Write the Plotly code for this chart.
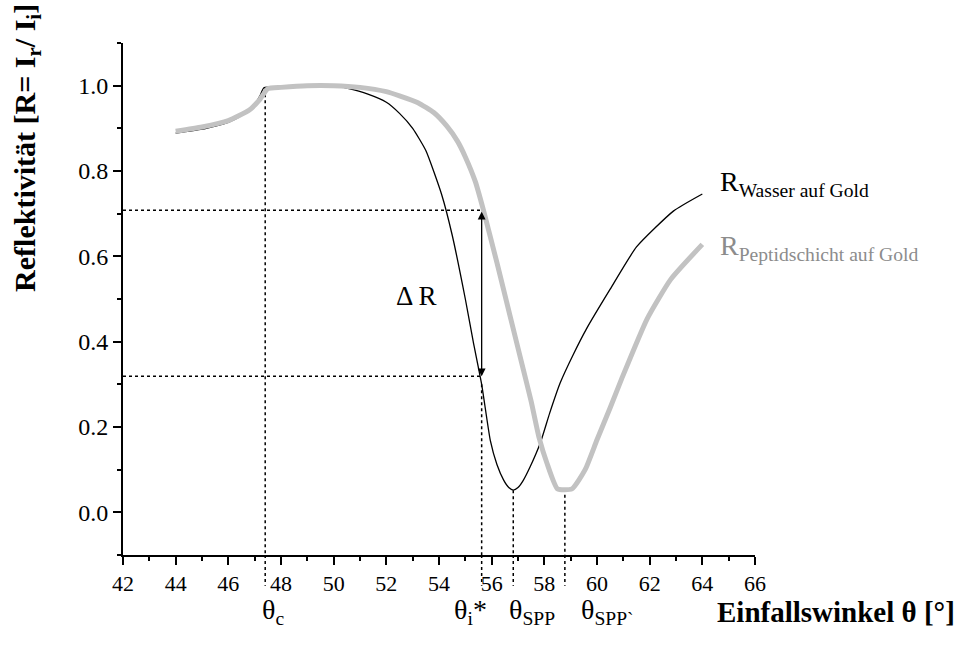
import plotly.graph_objects as go

# ---- data ----
theta_water = [44.0, 45.0, 46.0, 46.7, 47.0, 47.2, 47.35, 48.0, 49.0, 50.0, 50.5, 51.3, 52.0, 52.5,
               53.0, 53.5, 54.1, 54.5, 55.0, 55.3, 55.62, 55.95, 56.2, 56.45, 56.65, 56.82, 57.0,
               57.2, 57.47, 57.86, 58.2, 58.6, 59.1, 59.6, 60.5, 61.5, 62.9, 64.0]
R_water = [0.889, 0.898, 0.914, 0.937, 0.955, 0.976, 0.995, 0.997, 1.0, 1.0, 0.994, 0.98, 0.961, 0.935,
           0.900, 0.848, 0.745, 0.650, 0.50, 0.40, 0.30, 0.168, 0.112, 0.076, 0.058, 0.052, 0.058,
           0.075, 0.108, 0.165, 0.232, 0.303, 0.37, 0.43, 0.523, 0.622, 0.706, 0.746]

theta_peptide = [44.0, 45.0, 46.0, 46.8, 47.2, 47.5, 48.0, 49.0, 50.0, 51.0, 52.0, 52.5, 53.2, 53.8,
                 54.3, 54.7, 55.0, 55.38, 55.68, 56.2, 56.7, 57.2, 57.5, 57.8, 58.1, 58.5, 59.05,
                 59.55, 60.0, 60.5, 60.95, 61.9, 62.8, 64.0]
R_peptide = [0.893, 0.903, 0.918, 0.943, 0.968, 0.993, 0.996, 1.0, 1.0, 0.996, 0.986, 0.976, 0.96, 0.937,
             0.905, 0.87, 0.833, 0.775, 0.71, 0.585, 0.46, 0.335, 0.26, 0.175, 0.115, 0.055, 0.055,
             0.10, 0.17, 0.245, 0.315, 0.453, 0.546, 0.628]

theta_c = 47.4
theta_i = 55.62
theta_spp = 56.82
theta_spp2 = 58.78
R_at_c = 0.994
R_at_i = 0.30
R_min_water = 0.052
R_min_peptide = 0.055
R_high = 0.708
R_low = 0.319

x_ticks = list(range(42, 67, 2))
y_ticks = [0.0, 0.2, 0.4, 0.6, 0.8, 1.0]

FONT = "Liberation Serif, Times New Roman, serif"

fig = go.Figure()
fig.add_trace(go.Scatter(x=theta_water, y=R_water, mode="lines",
                         line=dict(color="black", width=1.3, shape="spline", smoothing=0.5),
                         showlegend=False))
fig.add_trace(go.Scatter(x=theta_peptide, y=R_peptide, mode="lines",
                         line=dict(color="#c2c2c2", width=5, shape="spline", smoothing=0.5),
                         showlegend=False))

dot = dict(color="black", width=1.5, dash="dot")
# vertical dotted lines (inside plot) + small extension below axis
for xv, yv in [(theta_c, R_at_c), (theta_i, R_at_i), (theta_spp, R_min_water), (theta_spp2, R_min_peptide)]:
    fig.add_shape(type="line", xref="x", yref="y", x0=xv, x1=xv, y0=yv, y1=-0.1, line=dot, layer="below")
    fig.add_shape(type="line", xref="x", yref="paper", x0=xv, x1=xv, y0=0, y1=-0.06, line=dot)
# horizontal dotted lines
for yv in [R_high, R_low]:
    fig.add_shape(type="line", xref="x", yref="y", x0=42, x1=theta_i, y0=yv, y1=yv, line=dot, layer="below")

# delta R arrow
fig.add_annotation(x=theta_i, y=R_low, ax=theta_i, ay=R_high, axref="x", ayref="y", xref="x", yref="y",
                   text="", showarrow=True, arrowside="end+start", arrowhead=2, startarrowhead=2,
                   arrowsize=1.2, startarrowsize=1.2, arrowwidth=1.3, arrowcolor="black", standoff=0, startstandoff=0)
fig.add_annotation(x=53.14, y=0.508, xref="x", yref="y", text="Δ R", showarrow=False,
                   font=dict(family=FONT, size=27, color="black"))

# curve labels
fig.add_annotation(x=64.59, y=0.77, xref="x", yref="y", xanchor="left", yanchor="middle",
                   text="R<sub>Wasser auf Gold</sub>", showarrow=False,
                   font=dict(family=FONT, size=28, color="black"))
fig.add_annotation(x=64.59, y=0.62, xref="x", yref="y", xanchor="left", yanchor="middle",
                   text="R<sub>Peptidschicht auf Gold</sub>", showarrow=False,
                   font=dict(family=FONT, size=28, color="#8c8c8c"))

# angle labels below axis
for xv, txt in [(47.7, "θ<sub>c</sub>"), (55.19, "θ<sub>i</sub>*"), (57.55, "θ<sub>SPP</sub>"),
                (60.4, "θ<sub>SPP`</sub>")]:
    fig.add_annotation(x=xv, y=-0.111, xref="x", yref="paper", text=txt, showarrow=False,
                       xanchor="center", yanchor="middle",
                       font=dict(family=FONT, size=28, color="black"))

fig.add_annotation(x=1.3196, y=-0.111, xref="paper", yref="paper", text="<b>Einfallswinkel θ [°]</b>",
                   showarrow=False, xanchor="right", yanchor="middle",
                   font=dict(family=FONT, size=29, color="black"))
fig.add_annotation(x=-0.152, y=0.795, xref="paper", yref="paper",
                   text="<b>Reflektivität [R= I<sub>r</sub>/ I<sub>i</sub>]</b>",
                   showarrow=False, textangle=-90, xanchor="center", yanchor="middle",
                   font=dict(family=FONT, size=30, color="black"))

axis_common = dict(showgrid=False, zeroline=False, showline=True, linecolor="black", linewidth=2,
                   ticks="outside", ticklen=8, tickwidth=2, tickcolor="black")
fig.update_xaxes(range=[42, 66], tickvals=x_ticks, ticktext=[str(v) for v in x_ticks],
                 tickfont=dict(family=FONT, size=22, color="black"),
                 minor=dict(dtick=1, tick0=42, ticklen=4, tickwidth=2, tickcolor="black", ticks="outside"),
                 **axis_common)
fig.update_yaxes(range=[-0.1, 1.1], tickvals=y_ticks, ticktext=[f"{v:.1f}" for v in y_ticks],
                 tickfont=dict(family=FONT, size=24, color="black"),
                 minor=dict(dtick=0.1, tick0=0, ticklen=4, tickwidth=2, tickcolor="black", ticks="outside"),
                 **axis_common)

fig.update_layout(width=961, height=645, margin=dict(l=123, r=206, t=43, b=90),
                  font=dict(family=FONT, color="black"),
                  plot_bgcolor="white", paper_bgcolor="white", showlegend=False)

fig.write_html("out.html", config={"displayModeBar": False},
               post_script="document.body.style.margin='0';")
